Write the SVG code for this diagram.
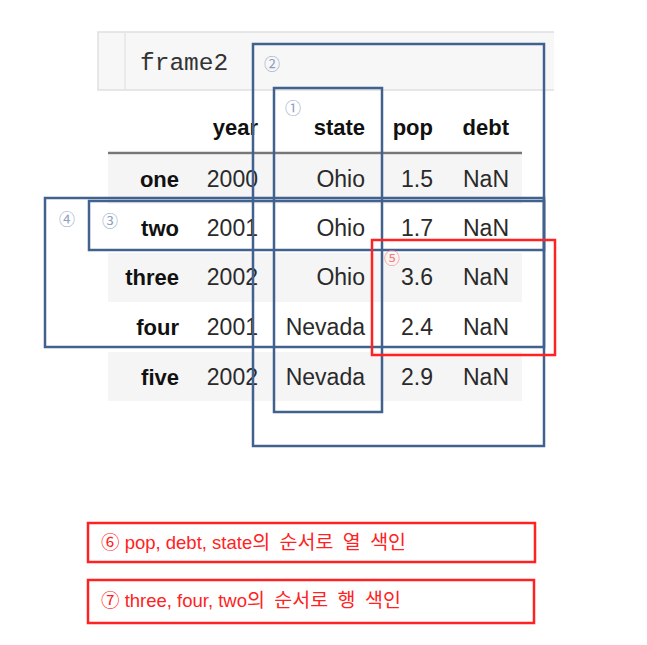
<svg xmlns="http://www.w3.org/2000/svg" width="647" height="645" viewBox="0 0 647 645">
<style>
.bg{fill:#ffffff}
.code{font-family:"Liberation Mono",monospace;font-size:24.5px;fill:#333}
.th{font-family:"Liberation Sans",Arial,sans-serif;font-size:22px;font-weight:bold;fill:#111;text-anchor:end}
.td{font-family:"Liberation Sans",Arial,sans-serif;font-size:23px;fill:#2a2a2a;text-anchor:end}
.stripe{fill:#f5f5f5}
.bbox{fill:none;stroke:#41628f;stroke-width:2.5}
.rbox{fill:none;stroke:#ff2222;stroke-width:2.5}
.num{font-family:"Noto Sans CJK KR","DejaVu Sans",sans-serif;font-size:16px;text-anchor:middle;dominant-baseline:central}
.nb{fill:#8ea2bf}
.nr{fill:#ff7a7a}
.note{font-family:"Liberation Sans","Noto Sans CJK KR",sans-serif;font-size:18.5px;fill:#ff2222}
.ko{font-size:19.5px;word-spacing:4px}
</style>
<rect class="bg" x="0" y="0" width="647" height="645"/>
<g id="code-cell">
<rect x="98" y="32" width="456" height="58" fill="#f7f7f7"/>
<path d="M554,32 H98 V90 H554" fill="none" stroke="#e0e0e0" stroke-width="1.5"/>
<line x1="125" y1="33" x2="125" y2="89" stroke="#e6e6e6" stroke-width="1.5"/>
<text class="code" x="140" y="70">frame2</text>
</g>
<g id="table">
<rect class="stripe" x="108" y="155" width="414" height="49"/>
<rect class="stripe" x="108" y="253" width="414" height="49"/>
<rect class="stripe" x="108" y="352" width="414" height="49"/>
<line x1="108" y1="153" x2="522" y2="153" stroke="#777" stroke-width="2.5"/>
<text class="th" x="258" y="135">year</text>
<text class="th" x="365" y="135">state</text>
<text class="th" x="433" y="135">pop</text>
<text class="th" x="509" y="135">debt</text>
<text class="th" x="179" y="187">one</text>
<text class="td" x="258" y="187">2000</text>
<text class="td" x="365" y="187">Ohio</text>
<text class="td" x="433" y="187">1.5</text>
<text class="td" x="509" y="187">NaN</text>
<text class="th" x="179" y="236">two</text>
<text class="td" x="258" y="236">2001</text>
<text class="td" x="365" y="236">Ohio</text>
<text class="td" x="433" y="236">1.7</text>
<text class="td" x="509" y="236">NaN</text>
<text class="th" x="179" y="285">three</text>
<text class="td" x="258" y="285">2002</text>
<text class="td" x="365" y="285">Ohio</text>
<text class="td" x="433" y="285">3.6</text>
<text class="td" x="509" y="285">NaN</text>
<text class="th" x="179" y="335">four</text>
<text class="td" x="258" y="335">2001</text>
<text class="td" x="365" y="335">Nevada</text>
<text class="td" x="433" y="335">2.4</text>
<text class="td" x="509" y="335">NaN</text>
<text class="th" x="179" y="385">five</text>
<text class="td" x="258" y="385">2002</text>
<text class="td" x="365" y="385">Nevada</text>
<text class="td" x="433" y="385">2.9</text>
<text class="td" x="509" y="385">NaN</text>
</g>
<g id="box1">
<rect class="bbox" x="274" y="88" width="108" height="324"/>
<text class="num nb" x="293" y="107">①</text>
</g>
<g id="box2">
<rect class="bbox" x="253" y="44" width="291" height="402"/>
<text class="num nb" x="272" y="63">②</text>
</g>
<g id="box4">
<rect class="bbox" x="45" y="198" width="499" height="149"/>
<text class="num nb" x="67" y="218">④</text>
</g>
<g id="box3">
<rect class="bbox" x="89" y="201" width="455" height="49"/>
<text class="num nb" x="110" y="220">③</text>
</g>
<g id="box5">
<rect class="rbox" x="372" y="240" width="183" height="115"/>
<text class="num nr" x="392" y="257">⑤</text>
</g>
<g id="note6">
<rect class="rbox" x="88" y="523" width="447" height="39"/>
<text class="note" x="101" y="549">⑥ pop, debt, state<tspan class="ko">의 순서로 열 색인</tspan></text>
</g>
<g id="note7">
<rect class="rbox" x="88" y="580" width="446" height="43"/>
<text class="note" x="101" y="607">⑦ three, four, two<tspan class="ko">의 순서로 행 색인</tspan></text>
</g>
<g id="connectors"></g>
</svg>
